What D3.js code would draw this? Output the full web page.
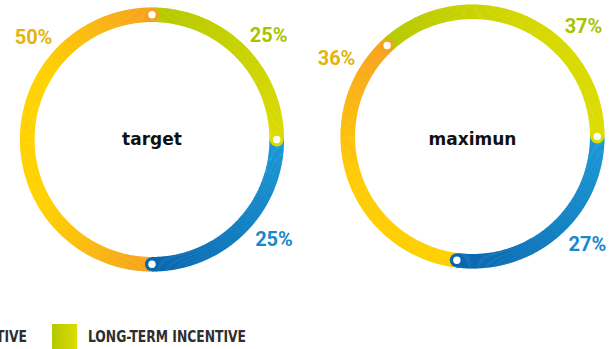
<!DOCTYPE html>
<html>
<head>
<meta charset="utf-8">
<script src="https://cdn.jsdelivr.net/npm/d3@7"></script>
<style>
  body { margin: 0; background: #fff; }
  svg { display: block; }
</style>
</head>
<body>
<div id="chart"></div>
<script>
var width = 614,
    height = 349;

// data
var categories = ["BASE SALARY", "SHORT-TERM INCENTIVE", "LONG-TERM INCENTIVE"];
var chartNames = ["target", "maximun"];
var targetValues = [25, 50, 25];
var maximunValues = [27, 36, 37];
var percentLabels = [["25%", "50%", "25%"], ["27%", "36%", "37%"]];

// styles / layout
var innerR = 117.5, outerR = 132, labelR = 157;
var centers = [[152, 139.5], [472.5, 136.5]];
var labelAngles = [[129, 311, 48], [133, 300, 45]]; // degrees, clockwise from 12 o'clock
var labelColors = ["#1a88c9", "#e4b40c", "#a8c300"];
var ringColors = [
  [["#1b99d6", "#0a66ae"], ["#f6a21f", "#ffd200", "#ffd200", "#f6a21f"], ["#b4c900", "#dcdc00"]],
  [["#1b99d6", "#0a66ae"], ["#ffd000", "#ffcc05", "#f6a21f"], ["#b4c900", "#d5d800", "#dcdc00"]]
];
var legendColors = [["#1b99d6", "#0a66ae"], ["#f6a21f", "#ffd200"], ["#b4c900", "#dcdc00"]];

var svg = d3.select("#chart").append("svg").attr("width", width).attr("height", height);

var pie = d3.pie().sort(null).startAngle(Math.PI / 2).endAngle(Math.PI / 2 + 2 * Math.PI);
var arc = d3.arc().innerRadius(innerR).outerRadius(outerR);

[targetValues, maximunValues].forEach(function(values, ci) {
  var g = svg.append("g").attr("transform", "translate(" + centers[ci][0] + "," + centers[ci][1] + ")");
  var slices = pie(values);

  // each segment is drawn as many thin slices so the colour follows the arc
  slices.forEach(function(d, i) {
    var color = d3.piecewise(d3.interpolateRgb, ringColors[ci][i]);
    var steps = Math.ceil((d.endAngle - d.startAngle) * 180 / Math.PI * 2);
    var parts = d3.range(steps).map(function(k) {
      return {
        startAngle: d.startAngle + (d.endAngle - d.startAngle) * k / steps,
        endAngle: Math.min(d.endAngle, d.startAngle + (d.endAngle - d.startAngle) * (k + 1) / steps + 0.004),
        t: (k + 0.5) / steps
      };
    });
    g.append("g").selectAll("path").data(parts).enter().append("path")
      .attr("d", arc)
      .attr("fill", function(p) { return color(p.t); });
  });

  // end markers
  var midR = (innerR + outerR) / 2;
  var ends = g.selectAll(".end").data(slices).enter().append("g").attr("class", "end")
    .attr("transform", function(d) {
      return "translate(" + (midR * Math.sin(d.endAngle)) + "," + (-midR * Math.cos(d.endAngle)) + ")";
    });
  ends.append("circle").attr("r", 7).attr("fill", function(d, i) {
    var c = ringColors[ci][i];
    return c[c.length - 1];
  });
  ends.append("circle").attr("r", 3.7).attr("fill", "#fff");

  // percentage labels
  g.selectAll(".pct").data(slices).enter().append("text").attr("class", "pct")
    .attr("x", function(d, i) { return labelR * Math.sin(labelAngles[ci][i] * Math.PI / 180); })
    .attr("y", function(d, i) { return -labelR * Math.cos(labelAngles[ci][i] * Math.PI / 180); })
    .attr("dy", "0.36em")
    .attr("text-anchor", "middle")
    .style("font-family", "Roboto, 'DejaVu Sans'")
    .style("font-weight", "700")
    .style("font-size", "20px")
    .style("fill", function(d, i) { return labelColors[i]; })
    .text(function(d, i) { return percentLabels[ci][i]; });

  // title
  svg.append("text")
    .attr("x", centers[ci][0]).attr("y", 144.5)
    .attr("text-anchor", "middle")
    .style("font-family", "'DejaVu Sans'")
    .style("font-weight", "700")
    .style("font-size", "17px")
    .style("fill", "#111")
    .text(chartNames[ci]);
});

// legend gradients
var defs = svg.append("defs");
legendColors.forEach(function(c, i) {
  var lg = defs.append("linearGradient").attr("id", "lg" + i);
  lg.append("stop").attr("offset", "0%").attr("stop-color", c[0]);
  lg.append("stop").attr("offset", "100%").attr("stop-color", c[1]);
});

// legend row, shifted so the last item's box lands where it is in the picture
var boxSize = 25, textGap = 11, itemGap = 25;
var legend = svg.append("g");
var items = legend.selectAll(".legendItem").data(categories).enter().append("g").attr("class", "legendItem");
items.append("rect").attr("width", boxSize).attr("height", boxSize)
  .attr("y", 324).style("fill", function(d, i) { return "url(#lg" + i + ")"; });
var legendText = items.append("text").attr("x", boxSize + textGap).attr("y", 342)
  .style("font-family", "'DejaVu Sans Condensed', sans-serif")
  .style("font-weight", "700")
  .style("font-size", "15.5px")
  .style("fill", "#2e2e2e")
  .text(function(d) { return d; });

// squeeze the condensed font to the narrow width seen in the picture
var lastLen = legendText.nodes()[categories.length - 1].getComputedTextLength();
var squeeze = 158 / lastLen;
legendText.each(function() {
  var len = this.getComputedTextLength() * squeeze;
  d3.select(this).attr("textLength", len).attr("lengthAdjust", "spacingAndGlyphs");
});

var xPos = 0, positions = [];
items.each(function() {
  positions.push(xPos);
  xPos += boxSize + textGap + (+d3.select(this).select("text").attr("textLength")) + itemGap;
});
var shift = 52 - positions[positions.length - 1];
items.attr("transform", function(d, i) { return "translate(" + (positions[i] + shift) + ",0)"; });
</script>
</body>
</html>
